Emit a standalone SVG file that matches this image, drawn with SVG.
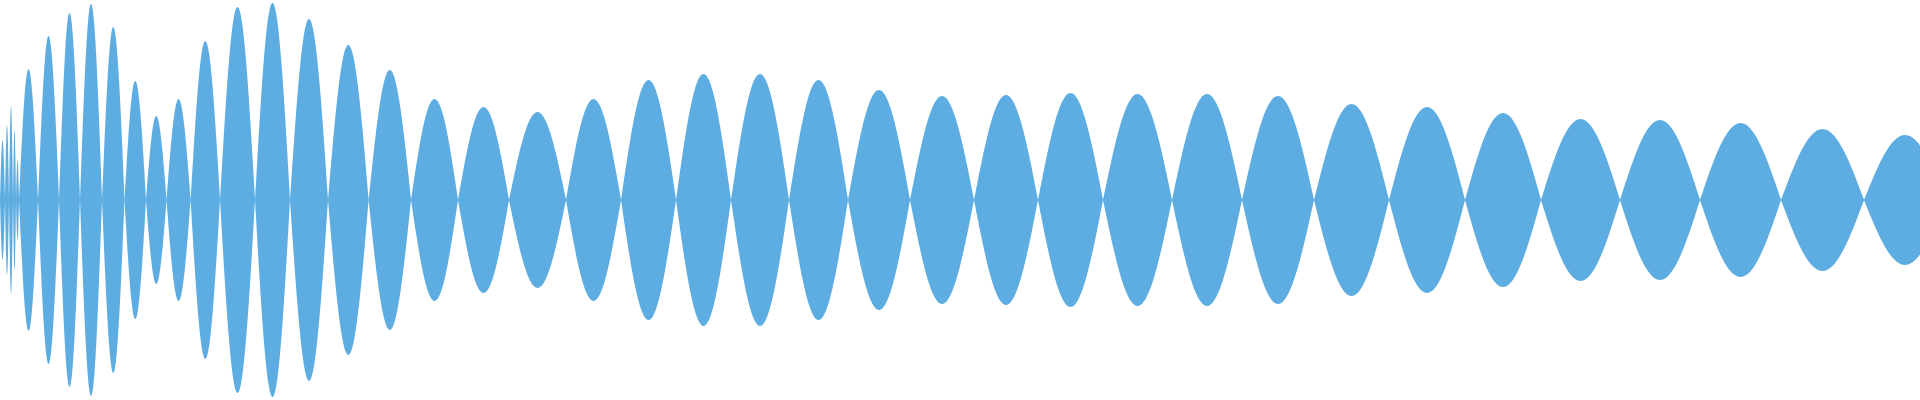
<svg xmlns="http://www.w3.org/2000/svg" width="1920" height="400" viewBox="0 0 1920 400">
<style>.w{fill:#5dade2}</style>
<defs>
<path id="lobe" d="M0,0C0.163,-0.5123 0.319,-1 0.5,-1S0.837,-0.5123 1,0C0.837,0.5123 0.681,1 0.5,1S0.163,0.5123 0,0Z"/>
</defs>
<rect width="1920" height="400" fill="#fff"/>
<g id="waveform">
<rect x="0" y="199.2" width="1920" height="1.6" fill="#5dade2"/>
<use href="#lobe" class="w" transform="translate(0,200) scale(5,60)"/>
<use href="#lobe" class="w" transform="translate(5,200) scale(4,75)"/>
<use href="#lobe" class="w" transform="translate(9,200) scale(4,94)"/>
<use href="#lobe" class="w" transform="translate(13,200) scale(3,70)"/>
<use href="#lobe" class="w" transform="translate(16,200) scale(3,40)"/>
<use href="#lobe" class="w" transform="translate(19,200) scale(19,131)"/>
<use href="#lobe" class="w" transform="translate(38,200) scale(21,164)"/>
<use href="#lobe" class="w" transform="translate(59,200) scale(21,187)"/>
<use href="#lobe" class="w" transform="translate(80,200) scale(22,196)"/>
<use href="#lobe" class="w" transform="translate(102,200) scale(22.5,173)"/>
<use href="#lobe" class="w" transform="translate(124.5,200) scale(21.5,119)"/>
<use href="#lobe" class="w" transform="translate(146,200) scale(20.5,84)"/>
<use href="#lobe" class="w" transform="translate(166.5,200) scale(24.1,101)"/>
<use href="#lobe" class="w" transform="translate(190.6,200) scale(29.4,159)"/>
<use href="#lobe" class="w" transform="translate(220,200) scale(35,193)"/>
<use href="#lobe" class="w" transform="translate(255,200) scale(35,197)"/>
<use href="#lobe" class="w" transform="translate(290,200) scale(38,181)"/>
<use href="#lobe" class="w" transform="translate(328,200) scale(40.6,155)"/>
<use href="#lobe" class="w" transform="translate(368.6,200) scale(42.4,130)"/>
<use href="#lobe" class="w" transform="translate(411,200) scale(47,101)"/>
<use href="#lobe" class="w" transform="translate(458,200) scale(51,93)"/>
<use href="#lobe" class="w" transform="translate(509,200) scale(57,88)"/>
<use href="#lobe" class="w" transform="translate(566,200) scale(55,101)"/>
<use href="#lobe" class="w" transform="translate(621,200) scale(55,120)"/>
<use href="#lobe" class="w" transform="translate(676,200) scale(55,126)"/>
<use href="#lobe" class="w" transform="translate(731,200) scale(58,126)"/>
<use href="#lobe" class="w" transform="translate(789,200) scale(59,120)"/>
<use href="#lobe" class="w" transform="translate(848,200) scale(62,110)"/>
<use href="#lobe" class="w" transform="translate(910,200) scale(64,104)"/>
<use href="#lobe" class="w" transform="translate(974,200) scale(64,105)"/>
<use href="#lobe" class="w" transform="translate(1038,200) scale(65,107)"/>
<use href="#lobe" class="w" transform="translate(1103,200) scale(69,106)"/>
<use href="#lobe" class="w" transform="translate(1172,200) scale(70,106)"/>
<use href="#lobe" class="w" transform="translate(1242,200) scale(72,104)"/>
<use href="#lobe" class="w" transform="translate(1314,200) scale(75,96)"/>
<use href="#lobe" class="w" transform="translate(1389,200) scale(76,93)"/>
<use href="#lobe" class="w" transform="translate(1465,200) scale(76,87)"/>
<use href="#lobe" class="w" transform="translate(1541,200) scale(79,81)"/>
<use href="#lobe" class="w" transform="translate(1620,200) scale(80,80)"/>
<use href="#lobe" class="w" transform="translate(1700,200) scale(81,77)"/>
<use href="#lobe" class="w" transform="translate(1781,200) scale(83,71)"/>
<use href="#lobe" class="w" transform="translate(1864,200) scale(82,65)"/>
</g>
</svg>
